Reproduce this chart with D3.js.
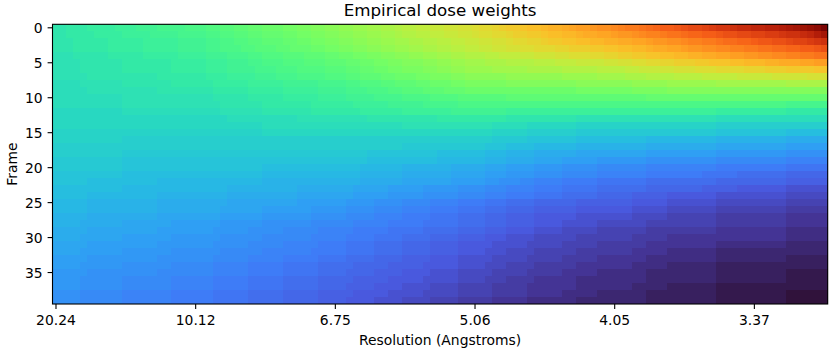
<!DOCTYPE html>
<html>
<head>
<meta charset="utf-8">
<script src="https://cdn.jsdelivr.net/npm/d3@7"></script>
<style>
  body { margin: 0; background: #fff; }
  text { font-family: "DejaVu Sans", sans-serif; fill: #000; }
</style>
</head>
<body>
<div id="dose_weights"></div>
<script>
// Axis ticks
const frameTicks = [0, 5, 10, 15, 20, 25, 30, 35];
const resolutionTickCols = [0, 20, 40, 60, 80, 100];
const resolutionTickLabels = ["20.24", "10.12", "6.75", "5.06", "4.05", "3.37"];

// Relative dose weight (0-99) per frame (row) and frequency column (111 columns).
// "v*n" means the value v repeated n times, "|" just groups 10 columns.
const weightRows = [
  "33 33 34 34 34 35 35 35 35 36|36 36 37 37 37 38 38 38 38 39|39 39 40 40 41 41 42 42 43 43|44 44 44 45 45 46 46 47 47 48|48 49 49 50 50 51 51 52 52 53|54 54 55 55 56 56 57 57 58 58|59 60 60 61 62 63 63 64 65 65|66 67 67 68 69 70 70 71 72 72|73 74 75 75 76 77 78 79 79 80|81 82 82 83 84 85 85 86 87 87|88 88 89 89 90 91 92 93 94 96 99",
  "33 33 34 34 34 34 35 35 35 35|36 36 36 36 37 37 37 37 38 38|38 38 39 39 40 40 41 41 42 42|43 43 43 44 44 45 45 46 46 47|47 48 48 49 49 50 50 51 51 52|53 53 54 54 55 55 56 56 57 57|58 59 59 60 60 61 62 62 63 63|64 65 65 66 66 67 68 68 69 69|70 71 71 72 73 74 74 75 76 76|77 78 78 79 79 80 81 81 82 82|83 83 84 84 85 86 86 87 88 90 92",
  "33 33 33 34 34 34 34 34 35 35|35 35 35 36 36 36 36 36 37 37|37 37 38 38 39 39 40 40 41 41|42 42 42 43 43 44 44 45 45 46|46 47 47 48 48 49 49 50 50 51|51 52 52 53 53 54 54 55 55 56|56 57 57 58 58 59 60 60 61 61|62 63 63 64 64 65 65 66 66 67|67 68 68 69 69 70 71 71 72 72|73 74 74 75 75 76 77 77 78 78|79 80 80 81 81 82 83 83 84 85 86",
  "33 33 33 34 34 34 34 34 35 35|35 35 35 36 36 36 36 36 37 37|37 37 38 38 39 39 39 40 40 41|41 41 42 42 43 43 43 44 44 45|45 46 46 47 47 48 48 49 49 50|50 51 51 52 52 53 53 54 54 55|55 56 56 57 57 58 58 59 59 60|60 60 61 61 62 62 62 63 63 64|64 65 65 66 66 67 68 68 69 69|70 71 71 72 72 73 73 74 74 75|75 76 76 77 77 78 78 79 79 80 81",
  "32 32 32 33 33 33 33 33 34 34|34 34 34 35 35 35 35 35 36 36|36 36 37 37 37 38 38 38 39 39|40 40 40 41 41 41 42 42 42 43|43 44 44 45 45 46 46 47 47 48|48 49 49 50 50 51 51 52 52 53|53 53 54 54 55 55 55 56 56 57|57 57 58 58 59 59 59 60 60 61|61 62 62 63 63 64 64 65 65 66|66 67 67 68 68 69 69 70 70 71|71 72 72 73 73 74 74 75 75 76 76",
  "32 32 32 32 33 33 33 33 33 33|34 34 34 34 34 34 34 35 35 35|35 35 36 36 36 37 37 37 38 38|39 39 39 40 40 40 41 41 41 42|42 42 43 43 44 44 45 45 46 46|47 47 47 48 48 49 49 50 50 51|51 51 52 52 52 53 53 53 53 54|54 54 55 55 55 56 56 56 56 57|57 58 58 59 59 60 60 61 61 62|62 62 63 63 64 64 64 65 65 66|66 66 67 67 68 68 68 69 69 70 70",
  "32 32 32 32 33 33 33 33 33 33|34 34 34 34 34 34 34 35 35 35|35 35 36 36 36 37 37 37 37 38|38 38 39 39 39 40 40 40 40 41|41 41 42 42 43 43 44 44 45 45|46 46 46 47 47 48 48 49 49 50|50 50 50 51 51 51 51 51 52 52|52 52 52 53 53 53 53 53 54 54|54 54 55 55 56 56 56 57 57 58|58 58 59 59 59 60 60 60 60 61|61 61 62 62 62 63 63 63 63 64 64",
  "32 32 32 32 32 33 33 33 33 33|33 33 33 33 33 34 34 34 34 34|34 34 35 35 35 36 36 36 36 37|37 37 38 38 38 39 39 39 39 40|40 40 41 41 42 42 42 43 43 44|44 44 45 45 46 46 46 47 47 48|48*5 49*5|49 49 49 50 50 50 50 50 51 51|51 51 52 52 52 53 53 53 53 54|54 54 54 55 55 55 55 55 56 56|56 56 56 57 57 57 57 57 58 58 58",
  "31 31 31 31 32 32 32 32 32 32|33 33 33 33 33 33 33 34 34 34|34 34 34 35 35 35 35 35 36 36|36 36 36 37 37 37 37 37 38 38|38 38 39 39 40 40 40 41 41 42|42 42 43 43 44 44 44 45 45 46|46*5 47*5|47*5 48*5|48 48 48 49 49 49 49 49 50 50|50*5 51*5|51*5 52*6",
  "31*5 32*5|32*5 33*5|33 33 33 34 34 34 34 34 35 35|35 35 35 36 36 36 36 36 37 37|37 37 38 38 38 39 39 39 40 40|41 41 41 42 42 42 43 43 43 44|44*10|44*5 45*5|45 45 45 46 46 46 46 46 47 47|47*10|47*11",
  "31*10|32*10|32 32 32 33 33 33 33 33 34 34|34 34 34 35 35 35 35 35 36 36|36 36 37 37 37 37 38 38 38 38|39 39 39 39 40 40 40 40 41 41|41*5 42*5|42*10|42*5 43*5|43*10|43*11",
  "31*10|32*10|32 32 32 32 33 33 33 33 33 33|34 34 34 34 34 34 34 35 35 35|35 35 35 36 36 36 36 36 37 37|37 37 37 38 38 38 38 38 39 39|39*10|39*10|39*10|39*10|39*5 38*6",
  "30*10|31*10|31 31 31 31 32 32 32 32 32 32|33 33 33 33 33 33 33 34 34 34|34 34 34 34 35 35 35 35 35 35|36 36 36 36 36 36 36 37 37 37|37*5 36*5|36*10|36*10|36*5 35*5|35*5 34*6",
  "30*10|30*10|30*5 31*5|31*5 32*5|32*5 33*5|33*5 34*5|34*5 33*5|33*5 32*5|32*10|32*5 31*5|31*11",
  "30*10|30*10|30*10|31*10|31*10|32*10|32 32 32 31 31 31 31 31 30 30|30*5 29*5|29*10|29*5 28*5|28*11",
  "29*10|29*10|29*10|30*10|30*10|30*10|30 30 30 29 29 29 29 29 28 28|28*5 27*5|27*10|27*5 26*5|26*5 25*6",
  "29*10|28*10|28*10|28*10|28*10|28*10|28 28 28 27 27 27 27 27 26 26|26*5 25*5|25*5 24*5|24*5 23*5|23*5 22*6",
  "28*10|28*10|28*10|28*10|28*10|27*10|27 27 26 26 26 25 25 25 25 24|24*5 23*5|23*5 22*5|22*5 21*5|21*5 20*6",
  "28*10|27*10|27*10|27*10|27*5 26*5|26*5 25*5|25 25 24 24 24 23 23 23 23 22|22*5 21*5|21*5 20*5|20*5 19*5|19*5 18*6",
  "27*10|26*10|26*10|26*10|26*5 25*5|25*5 24*5|24 24 23 23 23 22 22 22 22 21|21 21 21 20 20 20 20 20 19 19|19*5 18*5|18*5 17*5|17*5 16*6",
  "27*10|26*10|26*10|25*10|25 25 25 25 24 24 24 24 24 24|23 23 23 23 23 23 23 22 22 22|22 22 21 21 21 20 20 20 20 19|19 19 19 18 18 18 18 18 17 17|17*5 16*5|16*5 15*5|15*5 14*6",
  "26*10|25*10|25*10|24*10|24 24 24 24 23 23 23 23 23 23|22 22 22 22 22 22 22 21 21 21|21 21 20 20 20 19 19 19 19 18|18 18 18 17 17 17 17 17 16 16|16*5 15*5|15 15 15 14 14 14 14 14 13 13|13*5 12*6",
  "26*5 25*5|25*5 24*5|24*10|23*10|23 23 23 23 22 22 22 22 22 22|21 21 21 21 21 21 21 20 20 20|20 20 19 19 18 18 18 17 17 16|16 16 16 15 15 15 15 15 14 14|14*5 13*5|13*5 12*5|12*5 11*6",
  "25*10|24*10|24*5 23*5|23*5 22*5|22 22 22 21 21 21 21 21 20 20|20 20 20 19 19 19 19 19 18 18|18 18 17 17 17 16 16 16 16 15|15 15 15 14 14 14 14 14 13 13|13*5 12*5|12 12 12 11 11 11 11 11 10 10|10*5 9*6",
  "25*5 24*5|24*5 23*5|23*5 22*5|22*5 21*5|21 21 21 20 20 20 20 20 19 19|19 19 19 18 18 18 18 18 17 17|17 17 16 16 16 15 15 15 15 14|14 14 14 13 13 13 13 13 12 12|12 12 12 11 11 11 11 11 10 10|10*5 9*5|9*5 8*6",
  "24*5 23*5|23*5 22*5|22*5 21*5|21*5 20*5|20 20 19 19 19 19 18 18 18 18|17 17 17 17 16 16 16 16 15 15|15 15 14 14 14 13 13 13 13 12|12*5 11*5|11 11 11 10 10 10 10 10 9 9|9*5 8*5|8*5 7*6",
  "24*5 23*5|23*5 22*5|22 22 22 22 21 21 21 21 21 21|20 20 20 20 20 20 20 19 19 19|19 19 18 18 18 18 17 17 17 17|16 16 16 16 15 15 15 15 14 14|14 14 13 13 13 12 12 12 12 11|11*5 10*5|10 10 10 9 9 9 9 9 8 8|8*5 7*5|7*5 6*6",
  "23*5 22*5|22*5 21*5|21 21 21 21 20 20 20 20 20 20|19 19 19 19 19 19 19 18 18 18|18 18 17 17 17 17 16 16 16 16|15 15 15 15 14 14 14 14 13 13|13 13 12 12 12 11 11 11 11 10|10*5 9*5|9 9 9 8 8 8 8 8 7 7|7*5 6*5|6*5 5*6",
  "23 23 23 23 22 22 22 22 22 22|21 21 21 21 21 21 21 20 20 20|20 20 20 20 19 19 19 19 19 19|18 18 18 18 18 18 18 17 17 17|17 17 17 16 16 16 16 16 15 15|15 15 15 14 14 14 14 14 13 13|13 13 12 12 12 11 11 11 11 10|10 10 10 9 9 9 9 9 8 8|8*5 7*5|7*5 6*5|6*5 5*6",
  "22*5 21*5|21*5 20*5|20 20 20 19 19 19 19 19 18 18|18 18 18 17 17 17 17 17 16 16|16 16 16 15 15 15 15 15 14 14|14 14 14 13 13 13 13 13 12 12|12 12 11 11 11 10 10 10 10 9|9 9 9 8 8 8 8 8 7 7|7*5 6*5|6*5 5*5|5*5 4*6",
  "22 22 22 22 21 21 21 21 21 21|20 20 20 20 20 20 20 19 19 19|19 19 19 19 18 18 18 18 18 18|17 17 17 17 17 17 17 16 16 16|16 16 15 15 15 15 14 14 14 14|13 13 13 13 12 12 12 12 11 11|11 11 10 10 10 9 9 9 9 8|8*5 7*5|7 7 7 6 6 6 6 6 5 5|5*10|5*5 4*6",
  "21*5 20*5|20*5 19*5|19 19 19 18 18 18 18 18 17 17|17 17 17 16 16 16 16 16 15 15|15 15 14 14 14 14 13 13 13 13|12 12 12 12 11 11 11 11 10 10|10 10 10 9 9 9 9 9 8 8|8 8 8 7 7 7 7 7 6 6|6*5 5*5|5*5 4*5|4*5 3*6",
  "21 21 21 21 20 20 20 20 20 20|19 19 19 19 19 19 19 18 18 18|18 18 18 18 17 17 17 17 17 17|16 16 16 16 16 16 16 15 15 15|15 15 14 14 14 14 13 13 13 13|12 12 12 12 11 11 11 11 10 10|10 10 9 9 9 8 8 8 8 7|7*5 6*5|6 6 6 5 5 5 5 5 4 4|4*5 3*5|3*11",
  "20*5 19*5|19*5 18*5|18 18 18 17 17 17 17 17 16 16|16 16 16 15 15 15 15 15 14 14|14 14 13 13 13 13 12 12 12 12|11 11 11 11 10 10 10 10 9 9|9 9 9 8 8 8 8 8 7 7|7 7 7 6 6 6 6 6 5 5|5*5 4*5|4*5 3*5|3*5 2*6",
  "20 20 20 20 19 19 19 19 19 19|18 18 18 18 18 18 18 17 17 17|17 17 17 16 16 16 16 16 15 15|15 15 15 14 14 14 14 14 13 13|13 13 13 12 12 12 12 12 11 11|11 11 11 10 10 10 10 10 9 9|9 9 8 8 8 7 7 7 7 6|6*5 5*5|5 5 5 4 4 4 4 4 3 3|3*5 2*5|2*11",
  "19*5 18*5|18*5 17*5|17 17 17 16 16 16 16 16 15 15|15 15 15 14 14 14 14 14 13 13|13 13 12 12 12 12 11 11 11 11|10 10 10 10 9 9 9 9 8 8|8 8 8 7 7 7 7 7 6 6|6 6 6 5 5 5 5 5 4 4|4*5 3*5|3*5 2*5|2*5 1*6",
  "19 19 19 19 18 18 18 18 18 18|17 17 17 17 17 17 17 16 16 16|16 16 16 15 15 15 15 15 14 14|14 14 14 13 13 13 13 13 12 12|12 12 12 11 11 11 11 11 10 10|10 10 10 9 9 9 9 9 8 8|8 8 7 7 7 6 6 6 6 5|5*5 4*5|4*5 3*5|3*5 2*5|2*5 1*6",
  "19 19 19 19 18 18 18 18 18 18|17 17 17 17 17 17 17 16 16 16|16 16 16 15 15 15 15 15 14 14|14 14 14 13 13 13 13 13 12 12|12 12 11 11 11 11 10 10 10 10|9 9 9 9 8 8 8 8 7 7|7 7 7 6 6 6 6 6 5 5|5*5 4*5|4 4 4 3 3 3 3 3 2 2|2*5 1*5|1*11",
  "18 18 18 18 17 17 17 17 17 17|16 16 16 16 16 16 16 15 15 15|15 15 15 14 14 14 14 14 13 13|13 13 13 12 12 12 12 12 11 11|11 11 11 10 10 10 10 10 9 9|9 9 9 8 8 8 8 8 7 7|7 7 7 6 6 6 6 6 5 5|5 5 5 4 4 4 4 4 3 3|3*5 2*5|2*5 1*5|1*5 0*6",
  "18 18 18 18 17 17 17 17 17 17|16 16 16 16 16 16 16 15 15 15|15 15 15 14 14 14 14 14 13 13|13 13 13 12 12 12 12 12 11 11|11 11 10 10 10 10 9 9 9 9|8 8 8 8 7 7 7 7 6 6|6 6 6 5 5 5 5 5 4 4|4*5 3*5|3*5 2*5|2*5 1*5|1*5 0*6"
];

// Turbo colormap stops (position in 0-1 and colour)
const turboStops = [0, 0.05, 0.1, 0.15, 0.2, 0.25, 0.3, 0.35, 0.4, 0.45, 0.5,
                    0.55, 0.6, 0.65, 0.7, 0.75, 0.8, 0.85, 0.9, 0.95, 1];
const turboColors = ["#30123b", "#443494", "#4958dd", "#3e7bf7", "#2f9ef5", "#26bde1",
                     "#27d7c3", "#35eca2", "#4ef983", "#6ffe67", "#96fa50", "#bdef3f",
                     "#dfdc32", "#f9c229", "#fea323", "#fc801d", "#f55c17", "#d93b11",
                     "#b8200a", "#960f03", "#7a0403"];

// Expand one encoded row into numbers
function parseRow(s) {
    let out = [];
    s.split(/[\s|]+/).filter(t => t).forEach(t => {
        let parts = t.split("*");
        let n = parts.length > 1 ? +parts[1] : 1;
        for (let i = 0; i < n; i++) out.push(+parts[0]);
    });
    return out;
}

function drawDoseWeights() {
    let grid = weightRows.map(parseRow);
    let nFrames = grid.length;
    let nCols = d3.max(grid, r => r.length);

    // Set margins and dimensions
    const margin = { top: 24.3, left: 52.5 };
    const width = 775.2;
    const height = 279.7;

    let svg = d3.select("#dose_weights")
        .append("svg")
        .attr("width", 832)
        .attr("height", 352);

    let x = d3.scaleBand()
        .domain(d3.range(nCols))
        .range([margin.left, margin.left + width]);

    let y = d3.scaleBand()
        .domain(d3.range(nFrames))
        .range([margin.top, margin.top + height]);

    let color = d3.scaleLinear()
        .domain(turboStops.map(s => s * 99))
        .range(turboColors)
        .interpolate(d3.interpolateRgb)
        .clamp(true);

    // Heatmap cells
    let rows = svg.append("g")
        .selectAll("g")
        .data(grid)
        .enter().append("g");

    rows.selectAll("rect")
        .data((d, i) => d.map((v, j) => ({ frame: i, col: j, value: v })))
        .enter().append("rect")
        .attr("x", d => x(d.col))
        .attr("y", d => y(d.frame))
        .attr("width", x.bandwidth() + 0.4)
        .attr("height", y.bandwidth() + 0.4)
        .attr("fill", d => color(d.value))
        .attr("shape-rendering", "crispEdges");

    // Frame border
    svg.append("rect")
        .attr("x", margin.left)
        .attr("y", margin.top)
        .attr("width", width)
        .attr("height", height)
        .attr("fill", "none")
        .attr("stroke", "#000")
        .attr("stroke-width", 1.1);

    // X-axis
    let xAxis = svg.append("g")
        .attr("transform", `translate(0, ${margin.top + height})`)
        .call(d3.axisBottom(x)
            .tickValues(resolutionTickCols)
            .tickFormat((d, i) => resolutionTickLabels[i])
            .tickSize(4.9)
            .tickSizeOuter(0)
            .tickPadding(6.5));
    xAxis.select(".domain").remove();

    // Y-axis
    let yAxis = svg.append("g")
        .attr("transform", `translate(${margin.left}, 0)`)
        .call(d3.axisLeft(y)
            .tickValues(frameTicks)
            .tickSize(4.9)
            .tickSizeOuter(0)
            .tickPadding(4.9));
    yAxis.select(".domain").remove();
    yAxis.selectAll("text").attr("dy", "0.4em");

    svg.selectAll(".tick line").attr("stroke", "#000").attr("stroke-width", 1.1);
    svg.selectAll(".tick text")
        .style("font-family", "'DejaVu Sans', sans-serif")
        .style("font-size", "13.9px")
        .attr("fill", "#000");

    // Labels
    svg.append("text")
        .attr("x", margin.left + width / 2)
        .attr("y", 16)
        .attr("text-anchor", "middle")
        .style("font-size", "16.7px")
        .text("Empirical dose weights");

    svg.append("text")
        .attr("x", margin.left + width / 2)
        .attr("y", 345)
        .attr("text-anchor", "middle")
        .style("font-size", "13.9px")
        .text("Resolution (Angstroms)");

    svg.append("text")
        .attr("transform", `translate(16.5, ${margin.top + height / 2}) rotate(-90)`)
        .attr("text-anchor", "middle")
        .style("font-size", "13.9px")
        .text("Frame");
}

drawDoseWeights();
</script>
</body>
</html>
